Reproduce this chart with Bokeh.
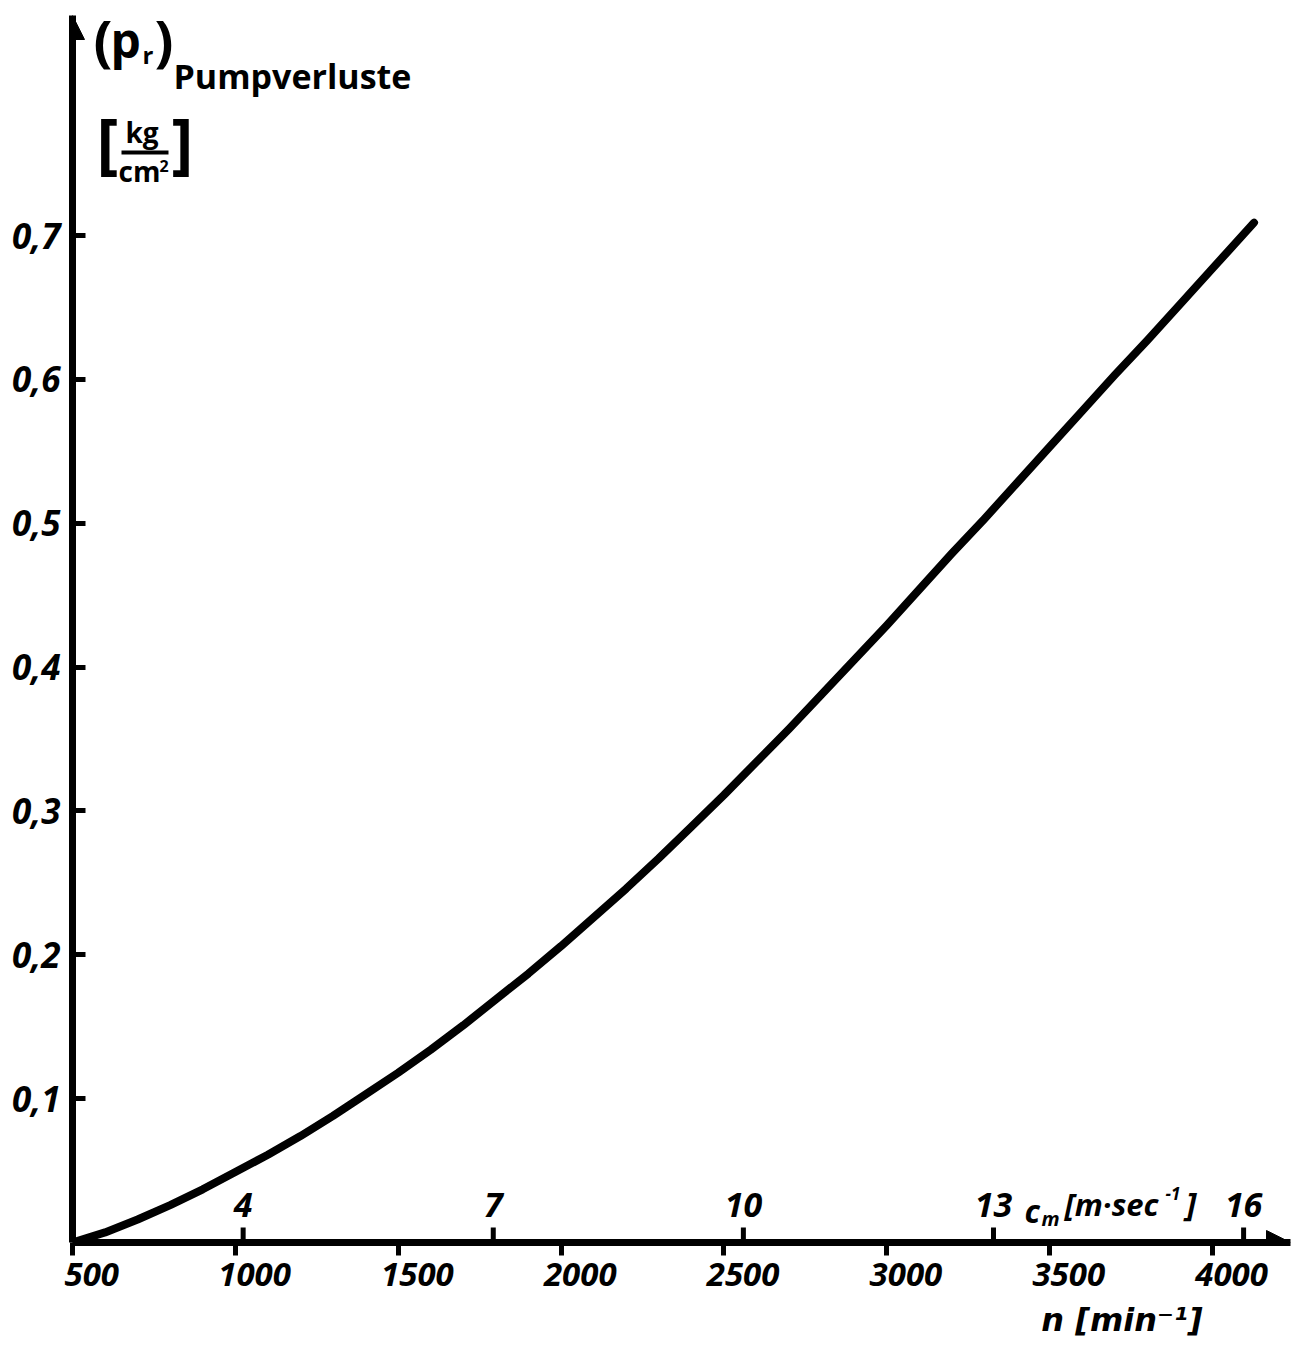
from bokeh.plotting import figure
from bokeh.models import Label, Arrow, NormalHead, FixedTicker, Range1d, Title
from bokeh.core.properties import value
from bokeh.embed import file_html
from bokeh.resources import INLINE

# ---------------- data ----------------
n_rpm = [500, 600, 700, 800, 900, 1000, 1100, 1200, 1300, 1400, 1500, 1600, 1700,
         1800, 1900, 2000, 2100, 2200, 2300, 2400, 2500, 2600, 2700, 2800, 2900,
         3000, 3100, 3200, 3300, 3400, 3500, 3600, 3700, 3800, 3900, 4000, 4128]
p_loss = [0.000, 0.007, 0.016, 0.026, 0.037, 0.049, 0.061, 0.074, 0.088, 0.103, 0.118,
          0.134, 0.151, 0.169, 0.187, 0.206, 0.226, 0.246, 0.267, 0.289, 0.311, 0.334,
          0.357, 0.381, 0.405, 0.429, 0.454, 0.479, 0.503, 0.528, 0.553, 0.578, 0.603,
          0.627, 0.652, 0.677, 0.709]

n_ticks = [500, 1000, 1500, 2000, 2500, 3000, 3500, 4000]
n_tick_labels = ["500", "1000", "1500", "2000", "2500", "3000", "3500", "4000"]
p_ticks = [0.1, 0.2, 0.3, 0.4, 0.5, 0.6, 0.7]
p_tick_labels = ["0,1", "0,2", "0,3", "0,4", "0,5", "0,6", "0,7"]
cm_ticks = [4, 7, 10, 13, 16]
cm_tick_labels = ["4", "7", "10", "13", "16"]
n_per_cm = 256  # rpm per 1 m/s of mean piston speed

# ---------------- layout ----------------
W, H = 1291, 1350
FL, FT, FR, FB = 72, 0, 1290, 1242   # frame edges in canvas pixels
Y_PER_PX = 0.853 / (1242 - 15)       # data units per pixel in y
X0, X1 = 500, 4240
Y0 = 0.0
Y_TIP = 0.853                        # top end of the drawn y axis (arrow tip)
Y1 = Y0 + (FB - FT) * Y_PER_PX

FONT = "Open Sans"
MID = 0.388   # distance baseline -> middle of the em box, in em (Open Sans)


def to_x(px):   # canvas pixel -> data x (text placement only)
    return X0 + (px - FL) * (X1 - X0) / (FR - FL)


def to_y(py):   # canvas pixel -> data y (text placement only)
    return Y0 + (FB - py) * Y_PER_PX


p = figure(width=W, height=H, x_range=Range1d(X0, X1), y_range=Range1d(Y0, Y1),
           output_backend="svg", toolbar_location=None,
           min_border_left=FL, min_border_right=W - FR,
           min_border_top=FT, min_border_bottom=H - FB)
p.outline_line_color = None
p.grid.visible = False
p.background_fill_color = "white"
p.border_fill_color = "white"

# y axis
ya = p.yaxis[0]
ya.bounds = (Y0, Y_TIP)
ya.ticker = FixedTicker(ticks=p_ticks, minor_ticks=[])
ya.major_label_overrides = dict(zip(p_ticks, p_tick_labels))
ya.axis_line_width = 7
ya.axis_line_color = "black"
ya.major_tick_in = 13
ya.major_tick_out = 0
ya.major_tick_line_width = 5
ya.major_tick_line_color = "black"
ya.minor_tick_line_color = None
ya.major_label_standoff = 12
ya.major_label_text_font = FONT
ya.major_label_text_font_size = "35px"
ya.major_label_text_font_style = "bold italic"
ya.major_label_text_color = "black"

# x axis (n); labels written slightly right of their ticks as in the drawing
PAD = "\u2003\u2009"
xa = p.xaxis[0]
xa.ticker = FixedTicker(ticks=n_ticks, minor_ticks=[])
xa.major_label_overrides = {t: PAD + s for t, s in zip(n_ticks, n_tick_labels)}
xa.axis_line_width = 7
xa.axis_line_color = "black"
xa.major_tick_in = 0
xa.major_tick_out = 13
xa.major_tick_line_width = 5
xa.major_tick_line_color = "black"
xa.minor_tick_line_color = None
xa.major_label_standoff = -5
xa.major_label_text_font = FONT
xa.major_label_text_font_size = "33px"
xa.major_label_text_font_style = "bold italic"
xa.major_label_text_color = "black"

# x axis title, below at the right
p.add_layout(Title(text="n [min\u207b\u00b9]", align="right", offset=88, standoff=0,
                   text_font="DejaVu Sans", text_font_size="32px",
                   text_font_style="bold italic", text_color="black"), "below")

# arrow heads on the axes
p.add_layout(Arrow(end=NormalHead(size=24, fill_color="black", line_color="black"),
                   x_start=X0, y_start=Y_TIP * 0.9, x_end=X0, y_end=Y_TIP, line_alpha=0))
p.add_layout(Arrow(end=NormalHead(size=24, fill_color="black", line_color="black"),
                   x_start=X1 * 0.98, y_start=Y0, x_end=X1, y_end=Y0, line_alpha=0))

# curve
p.line(n_rpm, p_loss, line_width=8, line_color="black", line_cap="round", line_join="round")

# secondary scale c_m on top of the x axis
cm_n = [c * n_per_cm for c in cm_ticks]
p.segment(x0=cm_n, y0=[Y0] * len(cm_n), x1=cm_n, y1=[Y0 + 15 * Y_PER_PX] * len(cm_n),
          line_width=5, line_color="black")
CM_SIZE = 34
p.text(x=cm_n, y=[Y0] * len(cm_n), text=cm_tick_labels,
       y_offset=-(24 + MID * CM_SIZE),
       text_align="center", text_baseline="middle",
       text_font=value(FONT), text_font_size=f"{CM_SIZE}px", text_font_style="bold italic",
       text_color="black")


def lab(px, baseline, text, size, style="bold", align="left"):
    # place text so that its baseline lies at canvas row `baseline`
    p.add_layout(Label(x=to_x(px), y=to_y(baseline - MID * size), text=text,
                       text_font=FONT, text_font_size=f"{size}px",
                       text_font_style=style, text_color="black",
                       text_align=align, text_baseline="middle"))


# y title: (p_r) Pumpverluste  [kg/cm²]
lab(93, 60, "(", 56, "bold")
lab(110, 58, "p", 48, "bold")
lab(142, 63, "r", 24, "bold")
lab(154, 60, ")", 56, "bold")
lab(173, 89, "Pumpverluste", 34, "bold")

lab(96, 166, "[", 66, "bold")
lab(125, 142, "kg", 28, "bold")
lab(118, 181, "cm", 28, "bold")
lab(159, 172, "2", 16, "bold")
lab(171, 166, "]", 66, "bold")
p.segment(x0=[to_x(121)], y0=[to_y(152)], x1=[to_x(168)], y1=[to_y(152)],
          line_width=4, line_color="black")

# c_m [m·sec^-1] label
lab(1024, 1222, "c", 32, "bold italic")
lab(1041, 1226, "m", 20, "bold italic")
lab(1064, 1216, "[m\u00b7sec", 31, "bold italic")
lab(1165, 1200, "-1", 17, "bold italic")
lab(1185, 1216, "]", 33, "bold italic")

open("out.html", "w").write(file_html(p, INLINE))
